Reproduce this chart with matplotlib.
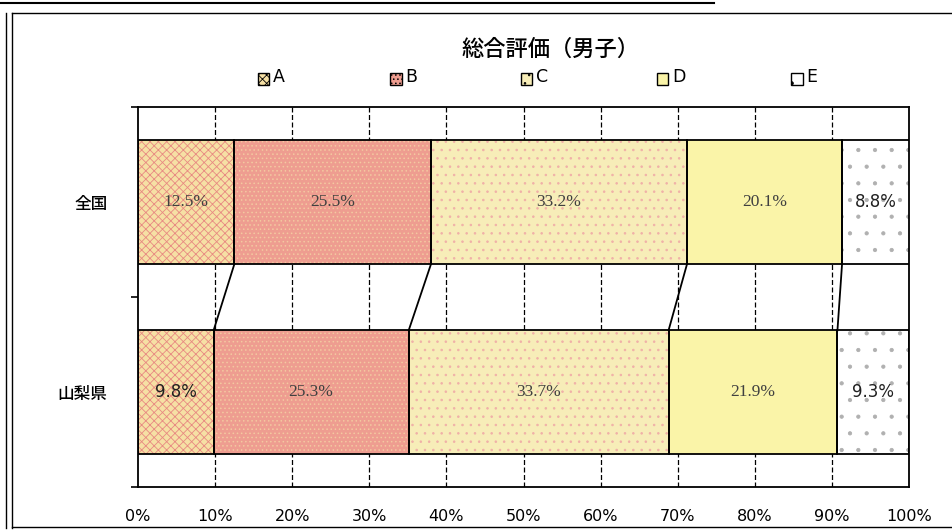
import numpy as np
import matplotlib.pyplot as plt
from matplotlib.patches import Rectangle
from matplotlib.lines import Line2D

plt.rcParams['font.family'] = ['Noto Sans CJK JP', 'DejaVu Sans']
plt.rcParams['hatch.linewidth'] = 0.6

# ----------------------------------
# Data
# ----------------------------------
categories = ['全国', '山梨県']
grades = ['A', 'B', 'C', 'D', 'E']
zenkoku = [12.5, 25.5, 33.2, 20.1, 8.8]
yamanashi = [9.8, 25.3, 33.7, 21.9, 9.3]
x_ticks = [0, 10, 20, 30, 40, 50, 60, 70, 80, 90, 100]

# styles per grade: face, hatch, hatch colour
faces = ['#F6E0A4', '#EE9D90', '#F7EDB8', '#FAF4A8', '#FFFFFF']
hatches = ['xxxx', '....', '..', None, '.']
hatch_cols = ['#E88A82', '#F3C9A0', '#F0B0A8', None, '#B0B0B0']

fig = plt.figure(figsize=(9.52, 5.31), dpi=100)
ax = fig.add_axes([0.145, 0.083, 0.81, 0.715])

values = np.array([zenkoku, yamanashi])
lefts = np.hstack([np.zeros((2, 1)), np.cumsum(values, axis=1)[:, :-1]])
ypos = np.arange(len(categories))
h = 0.65

# gridlines behind bars
for t in x_ticks[1:-1]:
    ax.axvline(t, color='black', lw=0.9, ls=(0, (4, 2)), zorder=0)

for i, g in enumerate(grades):
    ax.barh(ypos, values[:, i], left=lefts[:, i], height=h, color=faces[i],
            hatch=hatches[i], edgecolor=hatch_cols[i] or faces[i], lw=0, zorder=2)
    ax.barh(ypos, values[:, i], left=lefts[:, i], height=h, fill=False,
            edgecolor='black', lw=1.3, zorder=3)

# series lines between bars
ends = np.cumsum(values, axis=1)
for i in range(len(grades) - 1):
    ax.plot([ends[0, i], ends[1, i]], [0 + h / 2, 1 - h / 2], color='black', lw=1.3, zorder=3)

# data labels
for r in range(2):
    for i in range(len(grades)):
        cx = lefts[r, i] + values[r, i] / 2
        if i == 4 or (r == 1 and i == 0):
            ax.text(cx, r, f'{values[r, i]:.1f}%', ha='center', va='center',
                    fontsize=12, color='#202020', family='DejaVu Sans', zorder=4)
        else:
            ax.text(cx, r, f'{values[r, i]:.1f}%', ha='center', va='center',
                    fontsize=12.5, color='#404040', family='Liberation Serif', zorder=4)

ax.set_xlim(0, 100)
ax.set_ylim(1.5, -0.5)
ax.set_xticks(x_ticks)
ax.set_xticklabels([f'{t}%' for t in x_ticks], fontsize=11.5, family='DejaVu Sans')
ax.tick_params(axis='x', length=0, pad=16)
ax.set_yticks(ypos)
ax.set_yticklabels(categories, fontsize=12, fontweight='medium')
ax.tick_params(axis='y', length=0, pad=22)
ax.set_yticks([-0.5, 0.5, 1.5], minor=True)
ax.tick_params(axis='y', which='minor', length=5, width=1.2)
for s in ax.spines.values():
    s.set_linewidth(1.3)

# title and legend
fig.text(0.578, 0.907, '総合評価（男子）', ha='center', va='center', fontsize=16, fontweight='medium')
leg_x = [0.271, 0.41, 0.547, 0.69, 0.831]
for i, g in enumerate(grades):
    fig.patches.append(Rectangle((leg_x[i], 0.84), 0.012, 0.022, transform=fig.transFigure,
                                 facecolor=faces[i], hatch=hatches[i], edgecolor='black', lw=1))
    fig.text(leg_x[i] + 0.016, 0.855, g, ha='left', va='center', fontsize=12.5, family='DejaVu Sans')

# outer frame
for xf in [0.006, 0.013]:
    fig.lines.append(Line2D([xf, xf], [0.005, 0.975], transform=fig.transFigure, color='black', lw=1))
fig.lines.append(Line2D([0.013, 1.0], [0.975, 0.975], transform=fig.transFigure, color='black', lw=1))
fig.lines.append(Line2D([0.013, 1.0], [0.007, 0.007], transform=fig.transFigure, color='black', lw=1))
fig.lines.append(Line2D([0.0, 0.75], [0.995, 0.995], transform=fig.transFigure, color='black', lw=1.5))

fig.savefig('out.png', dpi=100)
